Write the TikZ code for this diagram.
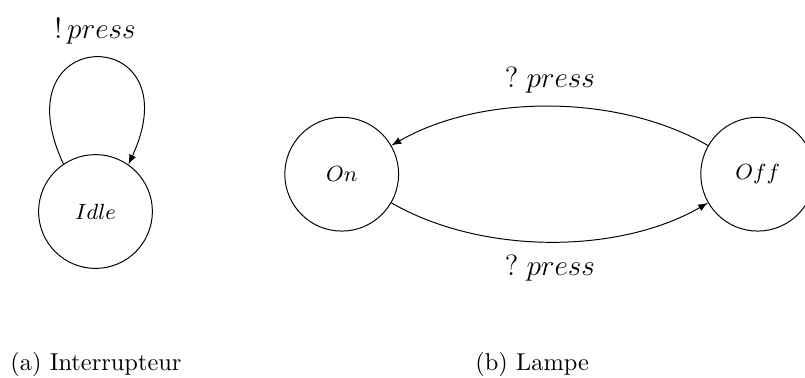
\documentclass[tikz,border=0pt]{standalone}
\usepackage{tikz}

\begin{document}
\begin{tikzpicture}[>=latex,
    loc/.style={draw,circle,inner sep=0pt,minimum size=1.64cm,font=\small},
    act/.style={font=\large}]
    \useasboundingbox (0,0) rectangle (11.60,-5.447);
    % Interrupteur
    \node (idle) [loc] at (1.376,-3.048) {$Idle$};
    \node (idle_act) [act] at (1.369,-0.447) {$!\,press$};
    \draw [->] (idle.124.6) .. controls +(115:2.26) and +(65:2.26) .. (idle.55.4);
    % Lampe
    \node (on) [loc] at (4.924,-2.510) {$On$};
    \node (off) [loc] at (10.918,-2.510) {$Off$};
    \draw [->] (off) to [bend right=30,looseness=0.84] (on);
    \draw [->] (on) to [bend right=30,looseness=0.84] (off);
    \node (off_on) [act] at (7.925,-1.153) {$?\;press$};
    \node (on_off) [act] at (7.925,-3.862) {$?\;press$};
    % captions
    \node (cap_a) [anchor=base west,inner sep=0pt] at (0.144,-5.339) {(a) Interrupteur};
    \node (cap_b) [anchor=base west,inner sep=0pt] at (6.844,-5.339) {(b) Lampe};
\end{tikzpicture}
\end{document}
